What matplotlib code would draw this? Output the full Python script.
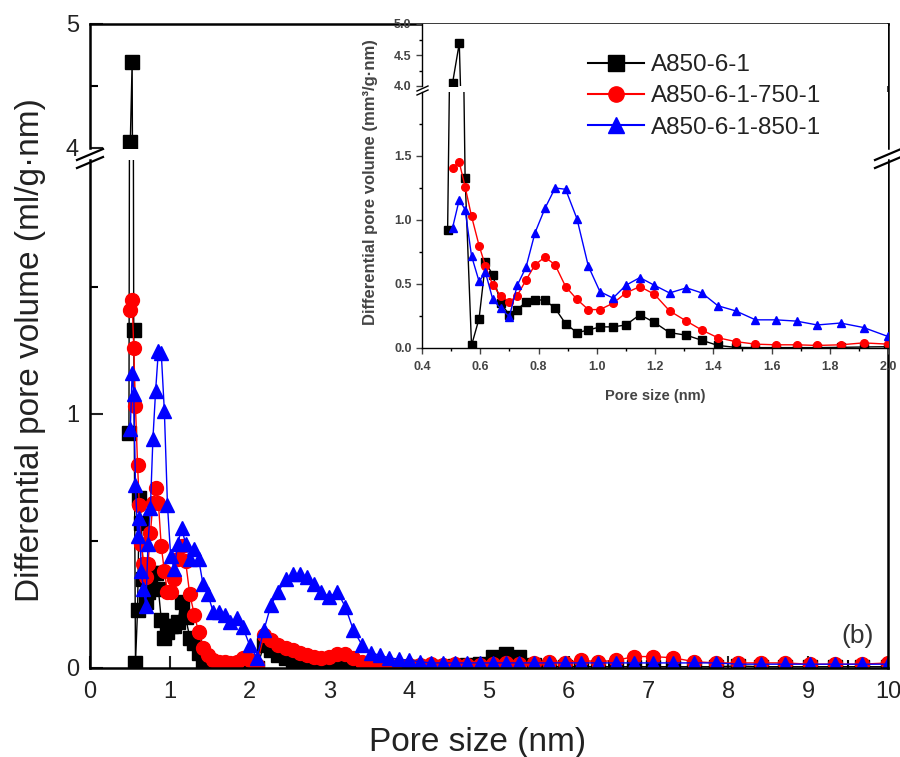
import numpy as np
import matplotlib
matplotlib.use("Agg")
import matplotlib.pyplot as plt
from matplotlib.lines import Line2D

plt.rcParams['font.family'] = ['Liberation Sans', 'DejaVu Sans']

# ---------------- data ----------------
pore_size = [0.488, 0.505, 0.528, 0.548, 0.570, 0.596, 0.618, 0.643, 0.670, 0.700,
             0.727, 0.757, 0.788, 0.822, 0.857, 0.893, 0.932, 0.971, 1.011, 1.056,
             1.100, 1.148, 1.198, 1.250, 1.308, 1.361, 1.416, 1.477, 1.545, 1.615,
             1.686, 1.757, 1.837, 1.916, 2.000,
             2.09, 2.18, 2.27, 2.36, 2.45, 2.54, 2.63, 2.72, 2.81, 2.90,
             3.00, 3.10, 3.20, 3.30, 3.41, 3.52, 3.63, 3.75, 3.87, 4.00,
             4.13, 4.27, 4.42, 4.57, 4.73, 4.89, 5.05, 5.21, 5.38, 5.56,
             5.75, 5.95, 6.15, 6.37, 6.59, 6.82, 7.06, 7.31, 7.57, 7.84,
             8.12, 8.41, 8.71, 9.02, 9.34, 9.67, 10.0]

a850 = [0.925, 4.05, 4.69, 1.33, 0.02, 0.23, 0.67, 0.57, 0.35, 0.26,
        0.30, 0.36, 0.375, 0.375, 0.31, 0.19, 0.12, 0.14, 0.165, 0.165,
        0.18, 0.26, 0.20, 0.12, 0.10, 0.06, 0.02, 0.005, 0.003, 0.003,
        0.003, 0.003, 0.005, 0.008, 0.01,
        0.0, 0.09, 0.07, 0.05, 0.04, 0.03, 0.02, 0.015, 0.01, 0.01,
        0.01, 0.02, 0.02, 0.01, 0.005, 0.005, 0.005, 0.005, 0.005, 0.005,
        0.005, 0.005, 0.005, 0.008, 0.01, 0.015, 0.045, 0.055, 0.045, 0.01,
        0.005, 0.005, 0.005, 0.005, 0.005, 0.005, 0.005, 0.005, 0.005, 0.005,
        0.008, 0.005, 0.005, 0.005, 0.005, 0.005, 0.005]

# red and blue start at the second pore size
a850_750 = [1.41, 1.45, 1.26, 1.03, 0.80, 0.64, 0.49, 0.41, 0.36,
            0.41, 0.53, 0.65, 0.71, 0.65, 0.48, 0.38, 0.30, 0.30, 0.35,
            0.43, 0.48, 0.42, 0.29, 0.21, 0.14, 0.08, 0.05, 0.03, 0.025,
            0.025, 0.02, 0.025, 0.04, 0.03,
            0.01, 0.13, 0.11, 0.09, 0.08, 0.07, 0.06, 0.05, 0.045, 0.04,
            0.045, 0.055, 0.055, 0.04, 0.025, 0.015, 0.01, 0.01, 0.01, 0.01,
            0.01, 0.015, 0.01, 0.015, 0.01, 0.01, 0.015, 0.02, 0.015, 0.02,
            0.025, 0.02, 0.03, 0.025, 0.03, 0.045, 0.045, 0.04, 0.025, 0.02,
            0.02, 0.02, 0.02, 0.015, 0.015, 0.015, 0.02]

a850_850 = [0.94, 1.16, 1.08, 0.72, 0.52, 0.59, 0.38, 0.31, 0.245,
            0.49, 0.63, 0.90, 1.09, 1.25, 1.24, 1.01, 0.64, 0.44, 0.39,
            0.49, 0.55, 0.49, 0.43, 0.47, 0.43, 0.33, 0.29, 0.22, 0.22,
            0.21, 0.18, 0.195, 0.16, 0.09,
            0.04, 0.15, 0.25, 0.30, 0.35, 0.37, 0.37, 0.36, 0.33, 0.30,
            0.28, 0.30, 0.24, 0.15, 0.09, 0.06, 0.05, 0.04, 0.035, 0.03,
            0.025, 0.02, 0.02, 0.02, 0.02, 0.02, 0.02, 0.02, 0.02, 0.02,
            0.02, 0.02, 0.02, 0.02, 0.02, 0.02, 0.02, 0.02, 0.02, 0.02,
            0.015, 0.015, 0.015, 0.015, 0.015, 0.015, 0.015]

labels = ['A850-6-1', 'A850-6-1-750-1', 'A850-6-1-850-1']
colors = ['black', '#ff0000', '#0000ff']
markers = ['s', 'o', '^']

main_xticks = list(range(0, 11))
main_yticks_low = [0, 1]
main_yticks_high = [4, 5]
inset_xticks = [0.4, 0.6, 0.8, 1.0, 1.2, 1.4, 1.6, 1.8, 2.0]
inset_yticks_low = [0.0, 0.5, 1.0, 1.5]
inset_yticks_high = [4.0, 4.5, 5.0]

W, H = 900, 757
fig = plt.figure(figsize=(W / 100, H / 100), dpi=100)


def rect(x0, y0, x1, y1):
    """pixel box (top-left origin) -> figure fraction rect"""
    return [x0 / W, 1 - y1 / H, (x1 - x0) / W, (y1 - y0) / H]


def fpt(x, y):
    return x / W, 1 - y / H


series = [
    (pore_size, a850),
    (pore_size[1:], a850_750),
    (pore_size[1:], a850_850),
]

TXT = '#222222'

# ---------------- main axes (broken y) ----------------
ax_lo = fig.add_axes(rect(90, 160, 888, 668))
ax_hi = fig.add_axes(rect(90, 24, 888, 148), sharex=ax_lo)

for ax in (ax_lo, ax_hi):
    for (xs, ys), c, m in zip(series, colors, markers):
        ax.plot(xs, ys, color=c, marker=m, ms=10 if m != 's' else 9.5,
                lw=1.0, mec=c, mfc=c)
    ax.set_xlim(0, 10)
    for s in ax.spines.values():
        s.set_linewidth(1.8)
    ax.tick_params(direction='in', which='major', length=9, width=1.5,
                   labelsize=17, colors=TXT)
    ax.tick_params(direction='in', which='minor', length=6, width=1.5)

ax_lo.set_ylim(0, 2)
ax_hi.set_ylim(4, 5)
ax_lo.spines['top'].set_visible(False)
ax_hi.spines['bottom'].set_visible(False)
ax_hi.tick_params(axis='x', which='both', bottom=False, labelbottom=False)
ax_lo.set_yticks(main_yticks_low)
ax_lo.set_yticks([0.5, 1.5], minor=True)
ax_hi.set_yticks(main_yticks_high)
ax_hi.set_yticks([4.5], minor=True)
ax_lo.set_xticks(main_xticks)
ax_lo.set_xticks(np.arange(0.5, 10, 1.0), minor=True)
ax_lo.set_yticklabels(['0', '1'])
ax_hi.set_yticklabels(['4', '5'])
ax_lo.tick_params(axis='x', pad=9)
ax_lo.tick_params(axis='y', pad=8)
ax_hi.tick_params(axis='y', pad=8)

fig.text(*fpt(478, 742), 'Pore size (nm)', ha='center', va='center',
         fontsize=24, color=TXT)
fig.text(*fpt(31, 350), 'Differential pore volume (ml/g\u00b7nm)', rotation=90,
         ha='center', va='center', fontsize=24, color=TXT)

fig.text(*fpt(858, 636), '(b)', ha='center', va='center', fontsize=19,
         color='#333333', zorder=30)

# break marks main
for (xa, ya, xb, yb) in [(77, 160, 103, 149), (77, 168, 103, 157),
                         (875, 160, 901, 149), (875, 168, 901, 157)]:
    fig.add_artist(Line2D([xa / W, xb / W], [1 - ya / H, 1 - yb / H],
                          color='black', lw=1.6, zorder=20))

# ---------------- inset (broken y) ----------------
IN_TXT = '#444444'
in_lo = fig.add_axes(rect(422, 92, 888, 348))
in_hi = fig.add_axes(rect(422, 24, 888, 86), sharex=in_lo)
for ax in (in_lo, in_hi):
    ax.set_zorder(5)
    ax.set_facecolor('white')
    for (xs, ys), c, m in zip(series, colors, markers):
        ax.plot(xs, ys, color=c, marker=m, ms=5.5, lw=1.0, mec=c, mfc=c)
    ax.set_xlim(0.4, 2.0)
    ax.spines['right'].set_visible(False)
    for s in ax.spines.values():
        s.set_linewidth(1.0)
    ax.tick_params(direction='out', which='major', length=4, width=1.0,
                   labelsize=9, colors=IN_TXT)
    ax.tick_params(direction='out', which='minor', length=2.5, width=1.0)
in_lo.set_ylim(0, 2.0)
in_hi.set_ylim(4, 5)
in_lo.spines['top'].set_visible(False)
in_hi.spines['top'].set_visible(False)
in_hi.spines['bottom'].set_visible(False)
in_hi.tick_params(axis='x', which='both', bottom=False, labelbottom=False)
in_lo.set_xticks(inset_xticks)
in_lo.set_xticks(np.arange(0.5, 2.0, 0.2), minor=True)
in_lo.set_xticklabels(['%.1f' % v for v in inset_xticks], fontweight='bold')
in_lo.set_yticks(inset_yticks_low)
in_lo.set_yticks([0.25, 0.75, 1.25, 1.75], minor=True)
in_lo.set_yticklabels(['%.1f' % v for v in inset_yticks_low], fontweight='bold')
in_hi.set_yticks(inset_yticks_high)
in_hi.set_yticks([4.25, 4.75], minor=True)
in_hi.set_yticklabels(['%.1f' % v for v in inset_yticks_high], fontweight='bold')
in_lo.tick_params(axis='x', pad=5)
fig.text(*fpt(655, 396), 'Pore size (nm)', ha='center', va='center',
         fontsize=10.5, color=IN_TXT, fontweight='bold', zorder=10)
fig.text(*fpt(370, 182), 'Differential pore volume (mm\u00b3/g\u00b7nm)',
         rotation=90, ha='center', va='center', fontsize=12,
         color=IN_TXT, fontweight='bold', zorder=10)

for (xa, ya, xb, yb) in [(417, 91, 428, 86), (417, 95, 428, 90)]:
    fig.add_artist(Line2D([xa / W, xb / W], [1 - ya / H, 1 - yb / H],
                          color='black', lw=1.0, zorder=20))

handles = [Line2D([], [], color=c, marker=m, ms=11, lw=1.5, mec=c, mfc=c)
           for c, m in zip(colors, markers)]
leg = fig.legend(handles, labels, loc='upper left',
                 bbox_to_anchor=fpt(588, 54), frameon=False, fontsize=17.5,
                 handlelength=2.3, handletextpad=0.3, labelspacing=0.38,
                 borderpad=0, borderaxespad=0)
for t in leg.get_texts():
    t.set_color(TXT)
leg.set_zorder(30)

fig.savefig('out.png', dpi=100)
